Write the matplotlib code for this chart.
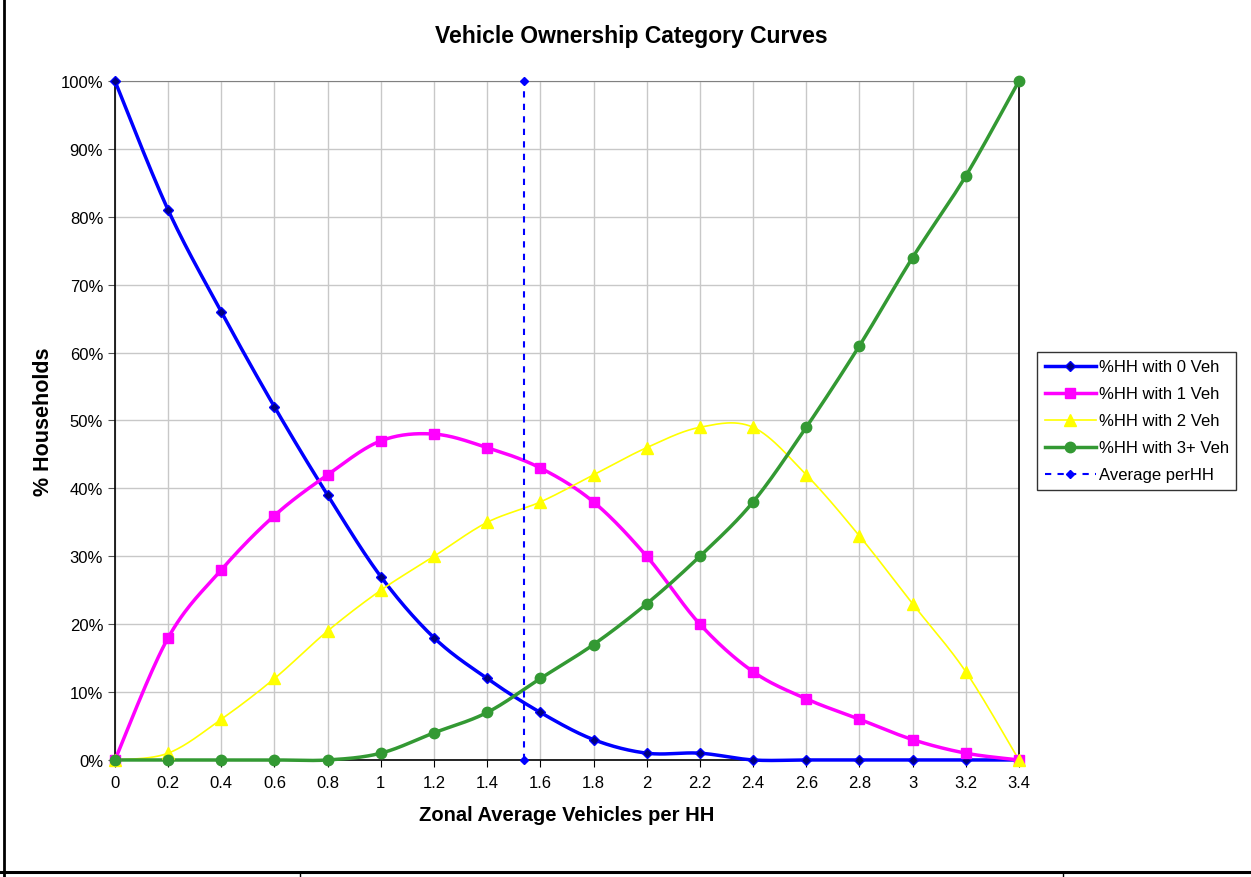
import numpy as np
import matplotlib.pyplot as plt
from matplotlib.lines import Line2D
from matplotlib.ticker import FuncFormatter

plt.rcParams['font.family'] = ['Liberation Sans', 'DejaVu Sans']

# data
veh_per_hh = [0, 0.2, 0.4, 0.6, 0.8, 1.0, 1.2, 1.4, 1.6, 1.8,
              2.0, 2.2, 2.4, 2.6, 2.8, 3.0, 3.2, 3.4]
hh_0veh = [100, 81, 66, 52, 39, 27, 18, 12, 7, 3, 1, 1, 0, 0, 0, 0, 0, 0]
hh_1veh = [0, 18, 28, 36, 42, 47, 48, 46, 43, 38, 30, 20, 13, 9, 6, 3, 1, 0]
hh_2veh = [0, 1, 6, 12, 19, 25, 30, 35, 38, 42, 46, 49, 49, 42, 33, 23, 13, 0]
hh_3veh = [0, 0, 0, 0, 0, 1, 4, 7, 12, 17, 23, 30, 38, 49, 61, 74, 86, 100]
avg_x = [1.54, 1.54]
avg_y = [0, 100]


def smooth(x, y, n=30):
    # excel-style smoothed line (catmull-rom through the points)
    p = np.column_stack([x, y]).astype(float)
    p = np.vstack([p[0], p, p[-1]])
    out = []
    t = np.linspace(0, 1, n)[:, None]
    for i in range(1, len(p) - 2):
        p0, p3 = p[i], p[i + 1]
        p1 = p0 + (p[i + 1] - p[i - 1]) / 6
        p2 = p3 - (p[i + 2] - p[i]) / 6
        seg = ((1 - t) ** 3) * p0 + 3 * ((1 - t) ** 2) * t * p1 + 3 * (1 - t) * t ** 2 * p2 + t ** 3 * p3
        out.append(seg)
    out = np.vstack(out)
    return out[:, 0], out[:, 1]


fig = plt.figure(figsize=(12.51, 8.78), dpi=100)
ax = fig.add_axes([0.0919, 0.1333, 0.7226, 0.7733])

series = [
    (hh_0veh, '%HH with 0 Veh', '#0000FF', 'D', '#000080', 2.5, 5.5),
    (hh_1veh, '%HH with 1 Veh', '#FF00FF', 's', '#FF00FF', 2.5, 7),
    (hh_2veh, '%HH with 2 Veh', '#FFFF00', '^', '#FFFF00', 1.2, 8),
    (hh_3veh, '%HH with 3+ Veh', '#339933', 'o', '#339933', 2.5, 7.5),
]
handles = []
for vals, name, col, mk, mfc, lw, ms in series:
    sx, sy = smooth(veh_per_hh, vals)
    ax.plot(sx, sy, color=col, lw=lw, zorder=3, clip_on=False)
    ax.plot(veh_per_hh, vals, ls='none', marker=mk, ms=ms, mfc=mfc, mec=col,
            mew=1, zorder=4, clip_on=False)
    handles.append(Line2D([], [], color=col, lw=lw, marker=mk, ms=ms, mfc=mfc, mec=col))

ax.plot(avg_x, avg_y, color='#0000FF', ls=(0, (3, 3)), lw=1.5, marker='D', ms=4,
        zorder=3, clip_on=False)
handles.append(Line2D([], [], color='#0000FF', ls=(0, (3, 3)), lw=1.5, marker='D', ms=4))

ax.set_xlim(0, 3.4)
ax.set_ylim(0, 100)
ax.set_xticks(veh_per_hh)
ax.set_xticklabels(['0', '0.2', '0.4', '0.6', '0.8', '1', '1.2', '1.4', '1.6', '1.8',
                    '2', '2.2', '2.4', '2.6', '2.8', '3', '3.2', '3.4'])
ax.set_yticks(np.arange(0, 101, 10))
ax.yaxis.set_major_formatter(FuncFormatter(lambda v, p: '%d%%' % v))
ax.tick_params(labelsize=12, length=5, color='#555555')
ax.tick_params(axis='x', color='black', pad=6)
ax.grid(True, color='#C8C8C8', lw=1)
ax.set_axisbelow(True)
ax.spines['top'].set_color('#808080')
for s in ['left', 'right', 'bottom']:
    ax.spines[s].set_color('black')
    ax.spines[s].set_linewidth(1.2)

ax.set_xlabel('Zonal Average Vehicles per HH', fontsize=14.5, fontweight='bold')
ax.xaxis.set_label_coords(0.5, -0.066)
ax.set_ylabel('% Households', fontsize=15.5, fontweight='bold')
ax.yaxis.set_label_coords(-0.067, 0.5)
fig.text(0.505, 0.958, 'Vehicle Ownership Category Curves', ha='center', va='center',
         fontsize=16.5, fontweight='bold')

leg = fig.legend(handles, [s[1] for s in series] + ['Average perHH'],
                 loc='upper left', bbox_to_anchor=(0.829, 0.598), fontsize=12,
                 frameon=True, fancybox=False, borderpad=0.45, labelspacing=0.72,
                 handlelength=3.1, handletextpad=0.15, borderaxespad=0)
leg.get_frame().set_edgecolor('black')
leg.get_frame().set_linewidth(1)

# spreadsheet cell borders around the chart
fig.add_artist(Line2D([0.003, 0.003], [0.0, 1.0], color='black', lw=2, transform=fig.transFigure))
fig.add_artist(Line2D([0, 1], [0.0057, 0.0057], color='black', lw=2.2, transform=fig.transFigure))
for xx in [0.24, 0.85]:
    fig.add_artist(Line2D([xx, xx], [0, 0.005], color='black', lw=1, transform=fig.transFigure))

fig.savefig('out.png', dpi=100)
